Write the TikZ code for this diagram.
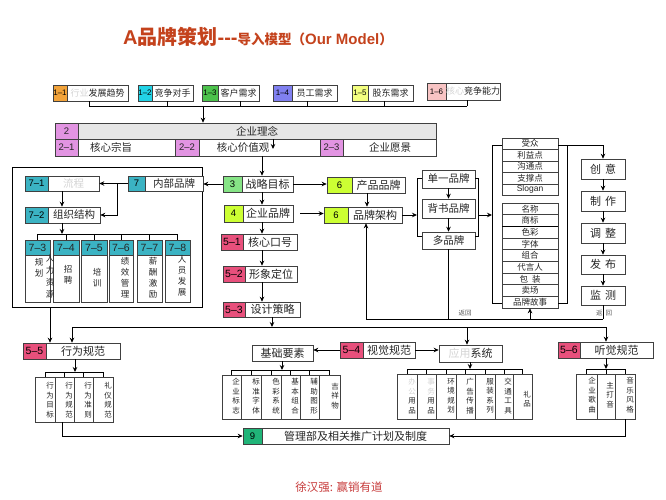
\documentclass[tikz,border=0pt]{standalone}
\usepackage{fontspec}
\setmainfont{Noto Sans CJK SC}
\newfontfamily\lat{Liberation Sans}
\usetikzlibrary{fit,calc,arrows.meta}
\definecolor{c11}{HTML}{F2A33A}
\definecolor{c12}{HTML}{22D3E6}
\definecolor{c13}{HTML}{4CC24C}
\definecolor{c14}{HTML}{8080F0}
\definecolor{c15}{HTML}{F4FF80}
\definecolor{c16}{HTML}{F8C4C4}
\definecolor{c2}{HTML}{E294E2}
\definecolor{c7}{HTML}{3BB3C3}
\definecolor{c3}{HTML}{86E486}
\definecolor{c4}{HTML}{CCFF33}
\definecolor{c5}{HTML}{E8507C}
\definecolor{c9}{HTML}{20B478}
\definecolor{hd}{HTML}{E6E6E6}
\definecolor{bord}{HTML}{404040}
\definecolor{tx}{HTML}{262626}
\definecolor{faint}{HTML}{D4D4D4}
\definecolor{titc}{HTML}{C4421C}
\definecolor{foot}{HTML}{C83C3C}
\newcommand\boxfont{\fontsize{11}{11}\selectfont}
\newcommand\labfont{\lat\fontsize{9.5}{9.5}\selectfont}
% plain box with centred text: name, x1, y1, x2, y2, fill, font, text
\newcommand\tbox[8]{%
  \node[bx, fill=#6, fit={(#2,#3)(#4,#5)}] (#1) {};
  \node[inner sep=0pt, text=tx, font=#7] (#1t) at (#1.center) {#8};}
% labelled box: name, x1, y1, x2, y2, label x2, colour, label, text
\newcommand\lbox[9]{%
  \node[bx, fit={(#2,#3)(#4,#5)}] (#1) {};
  \node[bx, fill=#7, fit={(#2,#3)(#6,#5)}] (#1l) {};
  \node[inner sep=0pt, font=\labfont] (#1n) at (#1l.center) {#8};
  \node[txt] (#1t) at ($(#6,#3)!.5!(#4,#5)$) {#9};}
\begin{document}
\begin{tikzpicture}[x=1pt,y=-1pt,
  bx/.style={draw=bord, line width=0.6pt, inner sep=0pt, fill=white},
  txt/.style={font=\boxfont, text=tx, inner sep=0pt},
  arr/.style={-{Stealth[length=5pt,width=4.5pt]}, line width=1pt},
  ln/.style={line width=1pt},
  thn/.style={line width=0.7pt},
  vt/.style={font=\fontsize{7.5}{9.5}\selectfont, align=center, inner sep=0pt, text=tx},
  vts/.style={font=\fontsize{8.5}{11}\selectfont, align=center, inner sep=0pt, text=tx}]
\useasboundingbox[fill=white] (0,0) rectangle (666,500);

% title
\node[anchor=base, text=titc, inner sep=0pt] (title) at (258,45)
  {\lat\bfseries\fontsize{20}{20}\selectfont A{\rmfamily\bfseries 品牌策划}-{}-{}-\fontsize{15}{15}\selectfont{\rmfamily\bfseries\fontsize{13.5}{13.5}\selectfont 导入模型（}Our Model{\rmfamily\bfseries\fontsize{13.5}{13.5}\selectfont ）}};

% row 1
\renewcommand\boxfont{\fontsize{9}{9}\selectfont}
\renewcommand\labfont{\lat\fontsize{8}{8}\selectfont}
\lbox{r1}{53}{85}{128}{101}{67}{c11}{1–1}{{\color{faint}行业}发展趋势}
\lbox{r2}{138}{85}{193}{101}{152}{c12}{1–2}{竞争对手}
\lbox{r3}{202}{85}{259}{101}{218}{c13}{1–3}{客户需求}
\lbox{r4}{273}{85}{337}{101}{292}{c14}{1–4}{员工需求}
\lbox{r5}{352}{85}{413}{101}{368}{c15}{1–5}{股东需求}
\lbox{r6}{427}{83}{500}{100}{446}{c16}{1–6}{{\color{faint}核心}竞争能力}
\draw[thn] (89,106) -- (467,106);
\foreach \n/\x in {r1/89,r2/167,r3/240,r4/307,r5/384,r6/467}
  \draw[thn] (\x,0 |- \n.south) -- (\x,106);

% box 2
\renewcommand\boxfont{\fontsize{10.5}{10.5}\selectfont}
\renewcommand\labfont{\lat\fontsize{9.5}{9.5}\selectfont}
\node[bx, fit={(55,123)(436,156)}] (b2) {};
\tbox{b2h}{78}{123}{436}{139}{hd}{\boxfont}{企业理念}
\tbox{b2l}{55}{123}{78}{139}{c2}{\labfont}{2}
\tbox{b21}{55}{139}{78}{156}{c2}{\labfont}{2–1}
\tbox{b22}{175}{139}{199}{156}{c2}{\labfont}{2–2}
\tbox{b23}{320}{139}{343}{156}{c2}{\labfont}{2–3}
\node[txt] (b21x) at (111,147.5) {核心宗旨};
\node[txt] (b22x) at (243,147.5) {核心价值观};
\node[txt] (b23x) at (390,147.5) {企业愿景};
\draw[arr] (203,106) -- (203,0 |- b2.north);
\draw[arr] (273,0 |- b2h.south) -- (273,149);

% internal brand container
\node[bx, draw=black, line width=0.8pt, fit={(12,167)(202,307)}] (c7) {};
\renewcommand\boxfont{\fontsize{10.5}{10.5}\selectfont}
\lbox{s71}{25}{176}{99}{191}{48}{c7}{7–1}{{\color{faint}流程}\hspace{16pt}}
\lbox{s7}{128}{176}{203}{191}{145}{c7}{7}{内部品牌}
\lbox{s72}{25}{207}{100}{223}{48}{c7}{7–2}{组织结构}
\renewcommand\labfont{\lat\fontsize{10.5}{10.5}\selectfont}
\foreach \n/\a/\b/\t in {k73/25/50/7–3, k74/53/79/7–4, k75/81/107/7–5, k76/109/133/7–6, k77/137/162/7–7, k78/165/190/7–8}{
  \node[bx, fit={(\a,255)(\b,302)}] (\n) {};
  \tbox{\n h}{\a}{240}{\b}{255}{c7}{\labfont}{\t}}
\draw[thn] (k73h.north |- 0,234) -- (k78h.north |- 0,234);
\foreach \c in {k73h,k74h,k75h,k76h,k77h,k78h}
  \draw[thn] (\c.north) -- (\c.north |- 0,234);
\node[vts] (v73a) at (39,268) {规\\划};
\node[vts, font=\fontsize{8.5}{12}\selectfont] (v73b) at (50,276) {人\\力\\资\\源};
\node[vts] (v74) at (68,275) {招\\聘};
\node[vts] (v75) at (97,278) {培\\训};
\node[vts] (v76) at (125,278) {绩\\效\\管\\理};
\node[vts] (v77) at (153,278) {薪\\酬\\激\\励};
\node[vts] (v78) at (182,276) {人\\员\\发\\展};
\draw[arr] (s7.west) -- (s7.west -| s71.east);
\draw[arr] (117,0 |- s7.west) -- (117,0 |- s72.east) -- (s72.east);
\draw[arr] (62,0 |- s71.south) -- (62,0 |- s72.north);
\draw[arr] (62,0 |- s72.south) -- (62,234);

% centre column
\renewcommand\boxfont{\fontsize{11}{11}\selectfont}
\renewcommand\labfont{\lat\fontsize{9.5}{9.5}\selectfont}
\lbox{n3}{223}{176}{293}{192}{242}{c3}{3}{战略目标}
\lbox{n4}{224}{205}{293}{222}{243}{c4}{4}{企业品牌}
\lbox{p6}{327}{177}{405}{193}{352}{c4}{6}{产品品牌}
\lbox{a6}{324}{207}{402}{223}{348}{c4}{6}{品牌架构}
\renewcommand\labfont{\lat\fontsize{10.5}{10.5}\selectfont}
\lbox{n51}{221}{234}{297}{250}{243}{c5}{5–1}{核心口号}
\lbox{n52}{223}{266}{297}{282}{245}{c5}{5–2}{形象定位}
\lbox{n53}{223}{302}{300}{317}{245}{c5}{5–3}{设计策略}
\draw[arr] (262,0 |- b2.south) -- (262,0 |- n3.north);
\draw[arr] (n3.west) -- (n3.west -| s7.east);
\draw[arr] (n3.east) -- (n3.east -| p6.west);
\draw[arr] (367,0 |- p6.south) -- (367,0 |- a6.north);
\draw[arr] (262,0 |- n3.south) -- (262,0 |- n4.north);
\draw[arr, shorten <=7pt] (n4.east) -- (n4.east -| a6.west);
\draw[arr] (262,0 |- n4.south) -- (262,0 |- n51.north);
\draw[arr] (262,0 |- n51.south) -- (262,0 |- n52.north);
\draw[arr] (262,0 |- n52.south) -- (262,0 |- n53.north);

% brand architecture options
\renewcommand\boxfont{\fontsize{10.5}{10.5}\selectfont}
\tbox{single}{422}{170}{475}{188}{white}{\boxfont}{单一品牌}
\tbox{back}{422}{199}{475}{218}{white}{\boxfont}{背书品牌}
\tbox{multi}{422}{232}{475}{249}{white}{\boxfont}{多品牌}
\draw[arr] (single.south) -- (back.north);
\draw[arr] (back.south) -- (multi.north);
\draw[thn] (single.west |- 0,178) -- (417,178) -- (417,236) -- (multi.west |- 0,236);
\draw[thn] (single.east |- 0,178) -- (478,178) -- (478,236) -- (multi.east |- 0,236);
\draw[arr] (a6.east) -- (a6.east -| 417,0);
\draw[arr] (478,0 |- a6.east) -- (492,0 |- a6.east);

% list
\foreach \i/\a/\b/\t in {1/138/149/受众, 2/149/161/利益点, 3/161/172/沟通点, 4/172/184/支撑点, 5/184/195/{\lat Slogan}, 6/203/214.7/名称, 7/214.7/226.3/商标, 8/226.3/238/色彩, 9/238/249.7/字体, 10/249.7/261.3/组合, 11/261.3/273/代言人, 12/273/284.7/包\hspace{4pt}装, 13/284.7/296.3/卖场, 14/296.3/308/品牌故事}
  {\tbox{l\i}{502}{\a}{558}{\b}{white}{\fontsize{8.5}{8.5}\selectfont}{\t}}
\draw[line width=1pt] (502,226.3) -- (558,226.3);
\draw[thn] (l1.west |- 0,145) -- (492,145) -- (492,303) -- (l14.west |- 0,303);
\draw[thn] (567,145) -- (567,303) -- (l14.east |- 0,303);

% right column
\renewcommand\boxfont{\fontsize{11}{11}\selectfont}
\tbox{cy}{581}{159}{625}{179}{white}{\boxfont}{创\hspace{4pt}意}
\tbox{zz}{581}{191}{625}{211}{white}{\boxfont}{制\hspace{4pt}作}
\tbox{tz}{581}{223}{625}{243}{white}{\boxfont}{调\hspace{4pt}整}
\tbox{fb}{581}{255}{625}{274}{white}{\boxfont}{发\hspace{4pt}布}
\tbox{jc}{581}{286}{625}{305}{white}{\boxfont}{监\hspace{4pt}测}
\draw[arr] (l1.east |- 0,145) -- (603,145) -- (cy.north);
\draw[arr] (cy.south) -- (zz.north);
\draw[arr] (zz.south) -- (tz.north);
\draw[arr] (tz.south) -- (fb.north);
\draw[arr] (fb.south) -- (jc.north);

% return line
\draw[ln] (366,319) -- (603,319);
\draw[arr] (366,319) -- (366,0 |- a6.south);
\draw[ln] (multi.south) -- (multi.south |- 0,319);
\draw[arr] (530,319) -- (530,0 |- l14.south);
\draw[ln] (jc.south) -- (jc.south |- 0,319);
\node[font=\fontsize{6.5}{6.5}\selectfont, text=tx!75, inner sep=0pt] (fh1) at (465,313) {返回};
\node[font=\fontsize{6.5}{6.5}\selectfont, text=tx!75, inner sep=0pt] (fh2) at (604,313) {返\hspace{3pt}回};

% second level
\renewcommand\boxfont{\fontsize{11}{11}\selectfont}
\lbox{n55}{23}{343}{120}{359}{46}{c5}{5–5}{行为规范}
\lbox{n54}{340}{342}{415}{358}{363}{c5}{5–4}{视觉规范}
\lbox{n56}{558}{342}{653}{358}{580}{c5}{5–6}{听觉规范}
\tbox{base}{252}{345}{313}{361}{white}{\boxfont}{基础要素}
\tbox{app}{439}{345}{502}{362}{white}{\boxfont}{{\color{faint}应用}系统}
\draw[arr] (272,0 |- n53.south) -- (272,327);
\draw[ln] (72,327) -- (606,327);
\draw[arr] (72,327) -- (72,0 |- n55.north);
\draw[arr] (467,327) -- (467,0 |- app.north);
\draw[arr] (606,327) -- (606,0 |- n56.north);
\draw[arr] (50,0 |- c7.south) -- (50,0 |- n55.north);
\draw[arr] (n54.west) -- (n54.west -| base.east);
\draw[arr] (n54.east) -- (n54.east -| app.west);

% nine
\renewcommand\labfont{\lat\fontsize{9.5}{9.5}\selectfont}
\lbox{nine}{243}{428}{449}{444}{262}{c9}{9}{管理部及相关推广计划及制度}

% group 5-5
\foreach \n/\a/\b in {e1/35/55, e2/55/74, e3/74/93, e4/93/113}
  \node[bx, fit={(\a,377)(\b,422)}] (\n) {};
\draw[thn] (e1.north |- 0,372) -- (e4.north |- 0,372);
\foreach \c in {e1,e2,e3,e4} \draw[thn] (\c.north) -- (\c.north |- 0,372);
\node[vt] (ve1) at (50,400) {行\\为\\目\\标};
\node[vt] (ve2) at (69,400) {行\\为\\规\\范};
\node[vt] (ve3) at (88,400) {行\\为\\准\\则};
\node[vt] (ve4) at (108,400) {礼\\仪\\规\\范};
\draw[arr] (75,0 |- n55.south) -- (75,372);
\draw[arr] (62,0 |- e2.south) -- (62,0 |- nine.west) -- (nine.west);

% group base
\foreach \n/\a/\b in {g1/222/241, g2/241/261, g3/261/281, g4/281/300, g5/300/319, g6/319/340}
  \node[bx, fit={(\a,375)(\b,419)}] (\n) {};
\draw[thn] (g1.north |- 0,370) -- (g6.north |- 0,370);
\foreach \c in {g1,g2,g3,g4,g5,g6} \draw[thn] (\c.north) -- (\c.north |- 0,370);
\node[vt] (vg1) at (236,396) {企\\业\\标\\志};
\node[vt] (vg2) at (256,396) {标\\准\\字\\体};
\node[vt] (vg3) at (276,396) {色\\彩\\系\\统};
\node[vt] (vg4) at (295,396) {基\\本\\组\\合};
\node[vt] (vg5) at (314,396) {辅\\助\\图\\形};
\node[vt] (vg6) at (335,396) {吉\\祥\\物};
\draw[arr] (282,0 |- base.south) -- (282,370);

% group app
\foreach \n/\a/\b in {a1/397/417, a2/417/436, a3/436/456, a4/456/475, a5/475/495, a6x/495/513, a7/513/532}
  \node[bx, fit={(\a,374)(\b,419)}] (\n) {};
\draw[thn] (a1.north |- 0,369) -- (a7.north |- 0,369);
\foreach \c in {a1,a2,a3,a4,a5,a6x,a7} \draw[thn] (\c.north) -- (\c.north |- 0,369);
\node[vt] (va1) at (412,396) {{\color{faint}办}\\{\color{faint}公}\\用\\品};
\node[vt] (va2) at (431,396) {{\color{faint}事}\\{\color{faint}务}\\用\\品};
\node[vt] (va3) at (451,396) {环\\境\\规\\划};
\node[vt] (va4) at (470,396) {广\\告\\传\\播};
\node[vt] (va5) at (490,396) {服\\装\\系\\列};
\node[vt] (va6) at (508,396) {交\\通\\工\\具};
\node[vt] (va7) at (527,399) {礼\\品};
\draw[arr] (470,0 |- app.south) -- (470,369);

% group 5-6
\foreach \n/\a/\b in {h1/576/597, h2/597/615, h3/615/635}
  \node[bx, fit={(\a,374)(\b,419)}] (\n) {};
\draw[thn] (h1.north |- 0,369) -- (h3.north |- 0,369);
\foreach \c in {h1,h2,h3} \draw[thn] (\c.north) -- (\c.north |- 0,369);
\node[vt] (vh1) at (592,395) {企\\业\\歌\\曲};
\node[vt] (vh2) at (610,395) {主\\打\\音};
\node[vt] (vh3) at (630,395) {音\\乐\\风\\格};
\draw[arr] (606,0 |- n56.south) -- (606,369);
\draw[arr] (h3.south) -- (h3.south |- nine.east) -- (nine.east);

% footer
\node[text=foot, font=\fontsize{11.5}{11.5}\selectfont, inner sep=0pt] (foot) at (339,487) {徐汉强: 赢销有道};
\end{tikzpicture}
\end{document}
